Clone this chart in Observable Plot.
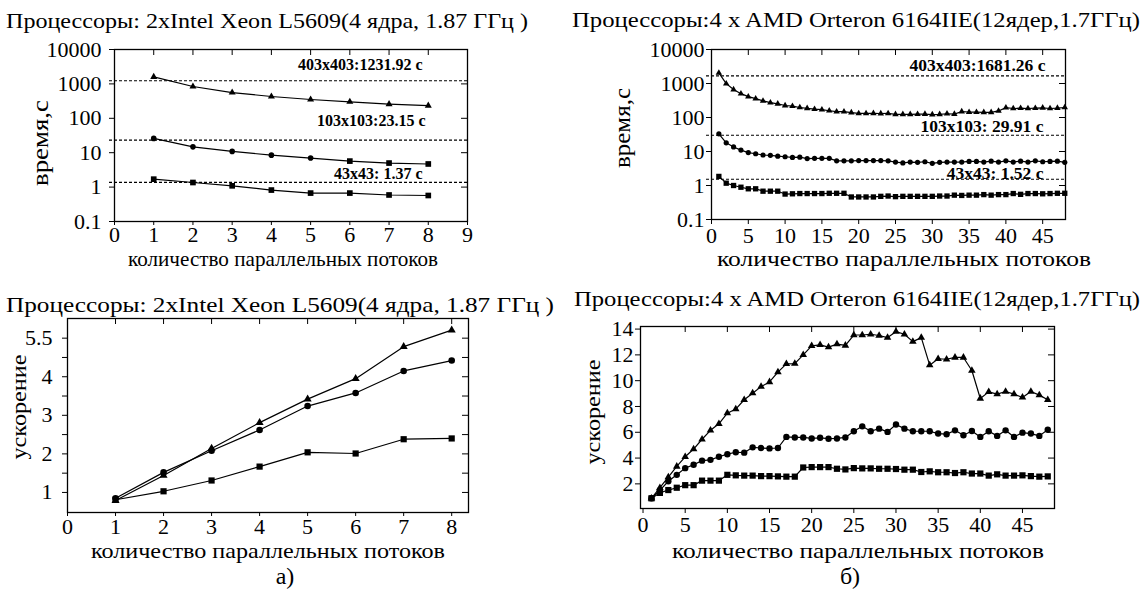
<!DOCTYPE html>
<html><head><meta charset="utf-8">
<script src="https://cdn.jsdelivr.net/npm/d3@7"></script>
<script src="https://cdn.jsdelivr.net/npm/@observablehq/plot@0.6"></script>
<style>
html,body{margin:0;padding:0;background:#fff;}
#wrap{position:relative;width:1142px;height:593px;overflow:hidden;background:#fff;font-family:"Liberation Serif",serif;}
#wrap svg{position:absolute;left:0;top:0;}
#wrap svg text{font-family:"Liberation Serif",serif;}
</style></head><body><div id="wrap"></div>
<script>
// ---------- data ----------
const threadsA = [1, 2, 3, 4, 5, 6, 7, 8];
const timeA_403 = [1600, 840, 560, 430, 352, 302, 258, 233];
const timeA_103 = [26, 14.8, 10.9, 8.5, 7.0, 5.7, 5.0, 4.7];
const markA_103 = ["circle", "circle", "circle", "circle", "circle", "square", "square", "square"];
const timeA_43 = [1.70, 1.36, 1.09, 0.82, 0.67, 0.67, 0.59, 0.57];
const refA = [1231.92, 23.15, 1.37];
const refLabelsA = ["403x403:1231.92 с", "103x103:23.15 с", "43x43: 1.37 с"];

const speedA_403 = [0.79, 1.44, 2.14, 2.81, 3.42, 3.95, 4.78, 5.21];
const speedA_103 = [0.85, 1.52, 2.08, 2.62, 3.24, 3.58, 4.15, 4.42];
const speedA_43 = [0.81, 1.03, 1.31, 1.67, 2.04, 2.01, 2.38, 2.40];

const threadsB = [1, 2, 3, 4, 5, 6, 7, 8, 9, 10, 11, 12, 13, 14, 15, 16, 17, 18, 19, 20, 21, 22, 23, 24,
  25, 26, 27, 28, 29, 30, 31, 32, 33, 34, 35, 36, 37, 38, 39, 40, 41, 42, 43, 44, 45, 46, 47, 48];
const timeB_403 = [2050, 990, 665, 502, 410, 358, 308, 273, 252, 225, 216, 197, 186, 176, 170, 158, 149, 148, 140, 132, 132, 133, 131, 132,
  124, 124, 124, 125, 126, 122, 124, 129, 126, 150, 144, 144, 142, 142, 156, 195, 184, 188, 184, 188, 193, 184, 189, 197];
const timeB_103 = [33, 18, 13.6, 11, 9.3, 8.6, 7.9, 7.7, 7.3, 7.0, 6.7, 6.8, 6.2, 6.3, 6.3, 6.3, 5.3, 5.3, 5.3, 5.4, 5.4, 5.4, 5.4, 5.3,
  4.9, 4.6, 4.9, 4.8, 5.0, 4.5, 4.8, 4.9, 4.9, 4.9, 5.1, 5.1, 4.9, 5.2, 4.9, 5.3, 4.9, 5.2, 4.9, 5.3, 5.0, 5.1, 5.2, 4.8];
const timeB_43 = [1.85, 1.17, 1.0, 0.89, 0.80, 0.80, 0.68, 0.68, 0.68, 0.56, 0.57, 0.58, 0.58, 0.58, 0.58, 0.59, 0.59, 0.59, 0.46, 0.46, 0.46, 0.46, 0.48, 0.49,
  0.47, 0.48, 0.48, 0.48, 0.48, 0.48, 0.49, 0.49, 0.52, 0.51, 0.52, 0.52, 0.54, 0.52, 0.54, 0.54, 0.58, 0.55, 0.58, 0.58, 0.57, 0.58, 0.59, 0.59];
const refB = [1681.26, 29.91, 1.52];
const refLabelsB = ["403x403:1681.26 с", "103x103: 29.91 с", "43x43: 1.52 с"];

const speedB_403 = [0.88, 1.7, 2.53, 3.35, 4.1, 4.7, 5.46, 6.15, 6.66, 7.48, 7.8, 8.52, 9.03, 9.54, 9.9, 10.66, 11.3, 11.32, 12.0, 12.7, 12.78, 12.6, 12.83, 12.73,
  13.54, 13.54, 13.6, 13.5, 13.34, 13.8, 13.6, 13.03, 13.34, 11.2, 11.7, 11.66, 11.8, 11.8, 10.79, 8.62, 9.13, 8.96, 9.16, 8.96, 8.7, 9.16, 8.88, 8.52];
const speedB_103 = [0.88, 1.5, 2.2, 2.7, 3.22, 3.48, 3.8, 3.86, 4.1, 4.3, 4.45, 4.42, 4.83, 4.78, 4.75, 4.78, 5.64, 5.6, 5.6, 5.52, 5.57, 5.5, 5.52, 5.6,
  6.08, 6.46, 6.08, 6.28, 6.03, 6.6, 6.28, 6.08, 6.08, 6.08, 5.9, 5.85, 6.15, 5.77, 6.1, 5.64, 6.08, 5.72, 6.15, 5.64, 5.97, 5.9, 5.72, 6.2];
const speedB_43 = [0.88, 1.3, 1.52, 1.7, 1.9, 1.9, 2.25, 2.25, 2.25, 2.7, 2.66, 2.64, 2.64, 2.6, 2.6, 2.58, 2.56, 2.56, 3.27, 3.3, 3.3, 3.3, 3.17, 3.12,
  3.22, 3.2, 3.2, 3.17, 3.17, 3.15, 3.1, 3.1, 2.92, 2.97, 2.9, 2.9, 2.84, 2.9, 2.8, 2.8, 2.64, 2.74, 2.64, 2.64, 2.66, 2.6, 2.56, 2.58];

// tick values / labels
const logTicks = [0.1, 1, 10, 100, 1000, 10000];
const xTicksA = [0, 1, 2, 3, 4, 5, 6, 7, 8, 9];
const xTicksB = [0, 5, 10, 15, 20, 25, 30, 35, 40, 45];
const xTicksC = [0, 1, 2, 3, 4, 5, 6, 7, 8];
const yTicksC = [1, 2, 3, 4, 5];
const yTickLabelsC = ["1", "2", "3", "4", "5.5"];
const yMinorC = [1.5, 2.5, 3.5, 4.5];
const yTicksD = [2, 4, 6, 8, 10, 12, 14];

// texts
const titleA = "Процессоры: 2xIntel Xeon L5609(4 ядра, 1.87 ГГц )";
const titleB = "Процессоры:4 x AMD Orteron 6164IIE(12ядер,1.7ГГц)";
const xTitle = "количество параллельных потоков";
const yTitleTime = "время,с";
const yTitleSpeed = "ускорение";
const captions = ["а)", "б)"];

// ---------- drawing ----------
const W = 1142, H = 593;
const FONT = '"Liberation Serif", serif';
const rows = (xs, ys) => xs.map((x, i) => ({x, y: ys[i], i}));
const K = "#000";

function series(data, sym, r) {
  return [
    Plot.line(data, {x: "x", y: "y", stroke: K, strokeWidth: 1.2}),
    Plot.dot(data, {x: "x", y: "y", symbol: sym, r, fill: K, stroke: null})
  ];
}

function refMarks(vals, labels, dxs, dys, fs) {
  const out = [Plot.ruleY(vals, {y: d => d, stroke: K, strokeWidth: 1.1, strokeDasharray: "3,2", insetLeft: -5})];
  vals.forEach((v, i) => {
    out.push(Plot.text([labels[i]], {frameAnchor: "right", y: () => v, text: d => d, dx: dxs[i], dy: dys[i],
      textAnchor: "end", fontWeight: "bold", fontSize: fs, fontFamily: FONT}));
  });
  return out;
}

function panel(o) {
  const fw = o.R - o.L, fh = o.B - o.T, inner = 6;
  const marks = [
    Plot.tickX(o.topTicks, {x: d => d, insetBottom: fh - inner, stroke: K}),
    Plot.tickY(o.rightTicks, {y: d => d, insetLeft: fw - inner, stroke: K}),
    ...(o.extra || []),
    ...o.marks,
    Plot.frame({stroke: K, strokeWidth: 1.3})
  ];
  return Plot.plot({
    width: W, height: H,
    marginLeft: o.L, marginRight: W - o.R, marginTop: o.T, marginBottom: H - o.B,
    x: {domain: o.xDomain, ticks: o.xTicks, tickSize: o.xts, tickPadding: o.xtp, tickFormat: d => String(d), label: null},
    y: {type: o.yType || "linear", domain: o.yDomain, ticks: o.yTicks, tickSize: 5, tickPadding: o.ytp,
        tickFormat: o.yFmt || (d => String(d)), label: null},
    style: {fontFamily: FONT, fontSize: o.fs + "px", color: K, background: "transparent", overflow: "visible"},
    marks
  });
}

const wrap = document.getElementById("wrap");

// Panel A (top-left): time, Intel
const A403 = rows(threadsA, timeA_403), A103 = rows(threadsA, timeA_103), A43 = rows(threadsA, timeA_43);
wrap.appendChild(panel({
  L: 114, R: 467, T: 49, B: 221, fs: 22, xts: 4, xtp: 1, ytp: 8,
  xDomain: [0, 9], xTicks: xTicksA, topTicks: xTicksA.slice(1, -1),
  yType: "log", yDomain: [0.1, 10000], yTicks: logTicks, rightTicks: logTicks.slice(1, -1),
  marks: [
    ...refMarks(refA, refLabelsA, [-45, -42, -45], [-16, -19, -9], 16),
    ...series(A403, "triangle", 2.6),
    Plot.line(A103, {x: "x", y: "y", stroke: K, strokeWidth: 1.2}),
    Plot.dot(A103.filter(d => markA_103[d.i] === "circle"), {x: "x", y: "y", symbol: "circle", r: 2.8, fill: K}),
    Plot.dot(A103.filter(d => markA_103[d.i] === "square"), {x: "x", y: "y", symbol: "square", r: 3.2, fill: K}),
    ...series(A43, "square", 3.2)
  ]
}));

// Panel B (top-right): time, AMD
const B403 = rows(threadsB, timeB_403), B103 = rows(threadsB, timeB_103), B43 = rows(threadsB, timeB_43);
wrap.appendChild(panel({
  L: 711, R: 1065, T: 49, B: 219, fs: 22, xts: 5, xtp: 3, ytp: 2,
  xDomain: [0, 48.1], xTicks: xTicksB, topTicks: xTicksB.slice(1),
  yType: "log", yDomain: [0.1, 10000], yTicks: logTicks, rightTicks: logTicks.slice(1, -1),
  marks: [
    ...refMarks(refB, refLabelsB, [-20, -22, -22], [-10, -9, -6], 17.5),
    ...series(B403, "triangle", 2.4),
    ...series(B103, "circle", 2.6),
    ...series(B43, "square", 3.0)
  ]
}));

// Panel C (bottom-left): speedup, Intel
const C403 = rows(threadsA, speedA_403), C103 = rows(threadsA, speedA_103), C43 = rows(threadsA, speedA_43);
{
  const L = 67, R = 468, T = 318, B = 512;
  wrap.appendChild(panel({
    L, R, T, B, fs: 22, xts: 4, xtp: 2, ytp: 10,
    xDomain: [0, 8.35], xTicks: xTicksC, topTicks: xTicksC.slice(1),
    yDomain: [0.48, 5.51], yTicks: yTicksC, rightTicks: [...yTicksC, ...yMinorC],
    yFmt: d => yTickLabelsC[yTicksC.indexOf(d)],
    extra: [Plot.tickY(yMinorC, {y: d => d, insetLeft: -5, insetRight: R - L, stroke: K})],
    marks: [
      ...series(C403, "triangle", 3),
      ...series(C103, "circle", 3.3),
      ...series(C43, "square", 3.5)
    ]
  }));
}

// Panel D (bottom-right): speedup, AMD
const D403 = rows(threadsB, speedB_403), D103 = rows(threadsB, speedB_103), D43 = rows(threadsB, speedB_43);
wrap.appendChild(panel({
  L: 640, R: 1054, T: 326, B: 508, fs: 22, xts: 5, xtp: 3, ytp: 2,
  xDomain: [-0.3, 48.8], xTicks: xTicksB, topTicks: xTicksB.slice(1),
  yDomain: [0.09, 14.2], yTicks: yTicksD, rightTicks: yTicksD,
  marks: [
    ...series(D403, "triangle", 2.8),
    ...series(D103, "circle", 3.2),
    ...series(D43, "square", 3.5)
  ]
}));

// ---------- titles, axis titles, captions ----------
const ov = d3.create("svg").attr("width", W).attr("height", H)
  .attr("font-family", FONT).style("overflow", "visible");
function txt(s, x, y, {size = 22, len = null, rotate = false, weight = "normal"} = {}) {
  const t = ov.append("text").attr("x", x).attr("y", y).attr("font-size", size)
    .attr("font-family", FONT)
    .attr("font-weight", weight).attr("text-anchor", "middle").attr("dominant-baseline", "central")
    .attr("fill", K).text(s);
  if (len) t.attr("textLength", len).attr("lengthAdjust", "spacingAndGlyphs");
  if (rotate) t.attr("transform", `rotate(-90 ${x} ${y})`);
}
txt(titleA, 267, 20, {size: 22, len: 522});
txt(titleB, 856, 19, {size: 22, len: 568});
txt(titleA, 280, 304, {size: 22, len: 548});
txt(titleB, 857, 298, {size: 22, len: 566});

txt(xTitle, 283, 259, {size: 21, len: 310});
txt(xTitle, 904, 259, {size: 21, len: 374});
txt(xTitle, 268, 551, {size: 21, len: 354});
txt(xTitle, 858, 551, {size: 21, len: 372});

txt(yTitleTime, 40, 143, {size: 23, len: 86, rotate: true});
txt(yTitleTime, 622, 128, {size: 23, len: 80, rotate: true});
txt(yTitleSpeed, 18, 407, {size: 22, len: 105, rotate: true});
txt(yTitleSpeed, 592, 412, {size: 22, len: 105, rotate: true});

txt(captions[0], 285, 576, {size: 24});
txt(captions[1], 850, 576, {size: 24});

wrap.appendChild(ov.node());
</script></body></html>
